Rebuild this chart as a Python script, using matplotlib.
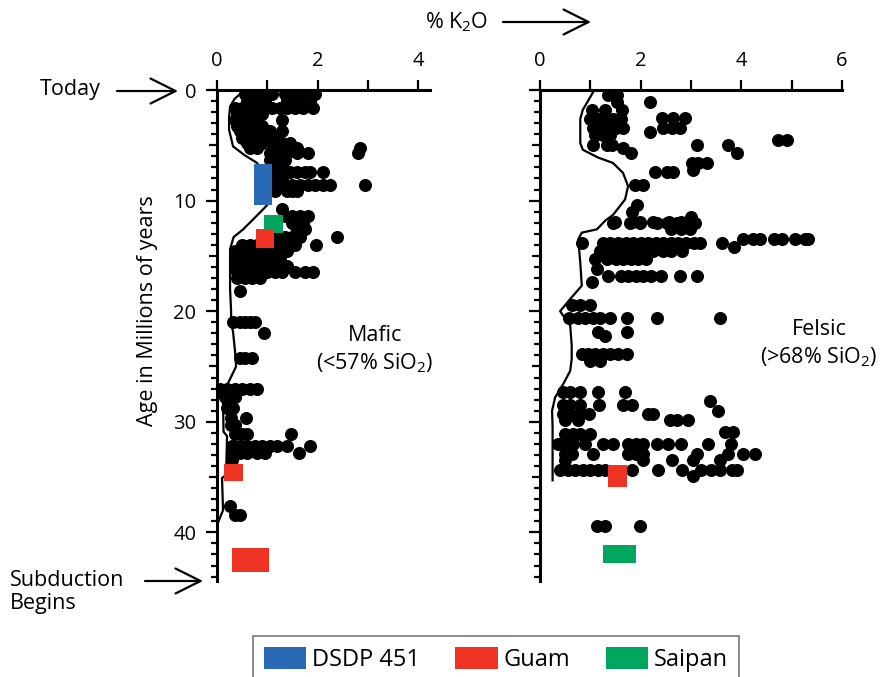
# K2O vs age, Mariana arc lavas (mafic and felsic panels)
import numpy as np
import matplotlib
matplotlib.use('Agg')
import matplotlib.pyplot as plt
from matplotlib.patches import Patch

plt.rcParams['font.family'] = ['Open Sans', 'DejaVu Sans']
plt.rcParams['mathtext.default'] = 'regular'

# ---- data: dots grouped by age row ----
mafic_row_age = [0.4, 1.0, 1.6, 2.2, 2.7, 3.3, 3.7, 4.3, 4.8, 5.2, 5.7, 6.3, 6.9, 7.4, 8.0,
                 8.6, 9.1, 10.8, 11.4, 12.0, 12.6, 13.3, 14.0, 14.6, 15.3, 15.9, 16.5, 17.0,
                 18.2, 21.0, 22.0, 24.2, 27.0, 27.8, 28.8, 29.7, 30.3, 31.1, 32.2, 32.8,
                 33.5, 37.6, 38.4]
mafic_row_k2o = [
    [0.55, 0.7, 0.85, 1.0, 1.1, 1.35, 1.5, 1.65, 1.8, 1.95],
    [0.6, 0.8, 0.95, 1.4, 1.6, 1.85],
    [0.35, 0.5, 0.65, 0.8, 0.95, 1.1, 1.25, 1.4, 1.55, 1.7, 1.9],
    [0.4, 0.6, 0.75, 0.9],
    [0.35, 0.5, 0.65, 0.8, 1.3],
    [0.4, 0.55, 0.75, 0.9],
    [0.45, 0.6, 0.8, 0.95, 1.05, 1.3],
    [0.5, 0.65, 0.85, 1.0, 1.2],
    [0.6, 0.75, 0.9, 1.1, 1.3, 1.45],
    [0.65, 0.8, 1.15, 1.35, 1.5, 1.6, 2.85],
    [1.05, 1.2, 1.4, 1.6, 1.8, 2.8],
    [1.05, 1.2, 1.35],
    [1.15, 1.3],
    [1.15, 1.3, 1.45, 1.6, 1.75, 1.85, 2.1],
    [1.15, 1.3],
    [1.2, 1.35, 1.5, 1.65, 1.8, 1.95, 2.1, 2.25, 2.95],
    [1.15, 1.4, 1.5, 1.6],
    [1.3],
    [1.35, 1.5, 1.65, 1.8],
    [1.5, 1.7],
    [1.6, 1.75],
    [0.9, 1.05, 1.2, 1.35, 1.5, 1.65, 2.38],
    [0.5, 0.65, 0.8, 0.95, 1.1, 1.25, 1.4, 1.55, 1.97],
    [0.35, 0.5, 0.65, 0.8, 0.95, 1.1, 1.25, 1.4],
    [0.35, 0.5, 0.65, 0.8, 0.95, 1.1, 1.25],
    [0.35, 0.5, 0.65, 0.8, 0.95, 1.1, 1.25, 1.4],
    [0.4, 0.55, 0.7, 0.85, 1.0, 1.15, 1.3, 1.55, 1.75, 1.9],
    [0.4, 0.55, 0.7, 0.85],
    [0.45],
    [0.32, 0.45, 0.55, 0.65, 0.75],
    [0.94],
    [0.45, 0.55, 0.7],
    [0.05, 0.2, 0.35, 0.5, 0.65, 0.8],
    [0.15, 0.3, 0.35],
    [0.2, 0.32],
    [0.27, 0.57],
    [0.27, 0.35],
    [0.35, 0.5, 0.6, 1.47],
    [0.3, 0.45, 0.6, 0.75, 0.9, 1.05, 1.2, 1.4, 1.85],
    [0.3, 0.45, 0.6, 0.8, 0.95, 1.63],
    [0.3],
    [0.26],
    [0.36, 0.45],
]

felsic_row_age = [0.45, 1.1, 1.8, 2.5, 2.6, 3.4, 3.8, 4.1, 4.5, 5.0, 5.2, 5.7, 6.6, 7.2, 7.4,
                  8.6, 10.4, 11.0, 11.5, 11.9, 12.0, 12.6, 13.5, 13.8, 14.2, 14.6, 15.3,
                  16.2, 16.8, 17.4, 19.4, 20.6, 21.9, 22.2, 23.9, 24.5, 27.3, 28.1, 28.5,
                  29.0, 29.3, 29.8, 30.9, 31.1, 32.0, 32.9, 33.5, 34.4, 34.9, 39.4]
felsic_row_k2o = [
    [1.35, 1.53],
    [1.53, 2.19],
    [1.03, 1.29, 1.63],
    [2.43, 2.64, 2.88],
    [1.0, 1.15, 1.3, 1.45, 1.6],
    [1.05, 1.2, 1.35, 1.5, 1.65, 2.45, 2.62, 2.78],
    [2.19],
    [1.1, 1.25, 1.4],
    [4.73, 4.9],
    [1.06, 1.33, 1.43, 3.12, 3.74],
    [1.65],
    [1.8, 3.92],
    [3.02, 3.14, 3.32],
    [3.04],
    [2.29, 2.52, 2.64],
    [1.89, 2.05],
    [1.93],
    [1.83],
    [3.0],
    [1.49, 1.82, 1.98, 2.24, 2.56, 2.8],
    [1.45, 1.79, 1.99, 2.33, 2.53, 2.72, 2.92, 3.08],
    [2.6, 2.8, 2.98],
    [4.04, 4.24, 4.37, 4.64, 4.8, 5.07, 5.27, 5.33],
    [0.83, 1.25, 1.4, 1.55, 1.7, 1.85, 2.0, 2.15, 2.3, 2.45, 2.6, 2.75, 2.9, 3.05, 3.18, 3.62],
    [3.85],
    [1.2, 1.35, 1.5, 1.65, 1.8, 1.95, 2.1, 2.25, 2.45, 2.6, 2.82],
    [1.1, 1.33, 1.5, 1.65, 1.8, 1.95, 2.1],
    [1.13],
    [1.35, 1.6, 1.75, 1.9, 2.05, 2.2, 2.4, 2.78, 3.12],
    [1.03],
    [0.63, 0.8, 1.0],
    [0.57, 0.75, 0.9, 1.05, 1.2, 1.39, 1.72, 2.32, 3.58],
    [1.16, 1.72],
    [1.3],
    [0.83, 0.95, 1.1, 1.25, 1.4, 1.55, 1.72],
    [1.0, 1.2],
    [0.46, 0.6, 0.8, 1.16, 1.69],
    [3.38],
    [0.45, 0.6, 0.8, 1.18, 1.65, 1.83],
    [3.54],
    [0.45, 0.6, 0.8, 0.97, 2.15, 2.25],
    [0.5, 0.75, 2.58, 2.72, 2.94],
    [3.68, 3.84],
    [0.5, 0.65, 0.8, 1.0],
    [0.35, 0.5, 0.65, 0.9, 1.25, 1.45, 1.75, 1.9, 2.05, 2.32, 2.54, 2.8, 3.33, 3.8],
    [0.5, 0.64, 1.06, 1.75, 1.9, 2.05, 3.12, 3.74, 4.04, 4.28],
    [0.5, 2.05, 2.62, 3.04, 3.57],
    [0.4, 0.55, 0.7, 0.85, 1.0, 1.15, 1.3, 1.83, 2.35, 2.82, 3.2, 3.4, 3.58, 3.82, 3.91],
    [3.04],
    [1.13, 1.29, 1.99],
]

# running-average curves
mafic_line_k2o = [0.50, 0.35, 0.26, 0.24, 0.24, 0.32, 0.55, 0.80, 0.95, 1.00, 0.85, 0.52,
                  0.33, 0.26, 0.26, 0.28, 0.28, 0.32, 0.36, 0.38, 0.20, 0.05, 0.12, 0.13,
                  0.20, 0.18, 0.10, 0.12, 0.03]
mafic_line_age = [0.2, 0.8, 1.5, 2.5, 3.6, 5.1, 5.9, 6.6, 8.0, 10.4, 11.1, 12.6, 13.3, 14.4,
                  18.0, 20.0, 21.0, 21.9, 23.7, 25.0, 26.7, 27.3, 28.0, 30.9, 31.3, 34.8,
                  35.1, 38.0, 39.0]
felsic_line_k2o = [1.06, 0.85, 0.80, 0.80, 0.85, 1.15, 1.45, 1.65, 1.75, 1.69, 1.45, 1.30,
                   1.13, 0.83, 0.76, 0.80, 0.83, 0.60, 0.40, 0.46, 0.60, 0.63, 0.63, 0.60,
                   0.46, 0.30, 0.24, 0.25, 0.25]
felsic_line_age = [0.15, 1.8, 2.6, 4.8, 5.4, 6.1, 6.6, 7.5, 8.7, 9.9, 11.3, 11.8, 12.6, 12.9,
                   13.5, 15.6, 17.7, 18.9, 20.0, 20.4, 21.3, 23.1, 24.3, 25.4, 26.6, 27.8,
                   29.0, 30.5, 35.3]

# site boxes (K2O range x age range)
mafic_site = ['DSDP 451', 'Saipan', 'Guam', 'Guam', 'Guam']
mafic_k2o_min = [0.74, 0.93, 0.78, 0.14, 0.30]
mafic_k2o_max = [1.10, 1.31, 1.14, 0.52, 1.04]
mafic_age_min = [6.7, 11.3, 12.6, 33.8, 41.4]
mafic_age_max = [10.4, 12.9, 14.3, 35.4, 43.6]
felsic_site = ['Guam', 'Saipan']
felsic_k2o_min = [1.35, 1.25]
felsic_k2o_max = [1.73, 1.91]
felsic_age_min = [33.9, 41.1]
felsic_age_max = [35.9, 42.8]

site_colors = {'DSDP 451': '#2a69b3', 'Guam': '#ee3224', 'Saipan': '#00a65d'}

W, H = 886, 677
fig = plt.figure(figsize=(W / 100, H / 100), dpi=100)

ax1 = fig.add_axes([217 / W, 96 / H, 213 / W, 491 / H])
ax2 = fig.add_axes([540 / W, 96 / H, 302 / W, 491 / H])


def expand(row_age, row_k2o):
    ages, vals = [], []
    for a, xs in zip(row_age, row_k2o):
        ages += [a] * len(xs)
        vals += xs
    return np.array(vals), np.array(ages)


def setup(ax, xmax, xticks, labels_y):
    ax.set_xlim(0, xmax)
    ax.set_ylim(44.4, 0)
    for s in ['right', 'bottom']:
        ax.spines[s].set_visible(False)
    for s in ['top', 'left']:
        ax.spines[s].set_linewidth(2.2)
    ax.xaxis.tick_top()
    ax.set_xticks(xticks)
    ax.set_xticklabels([str(t) if t % 2 == 0 else '' for t in xticks])
    ax.tick_params(axis='x', direction='out', length=7.5, width=1.6, pad=6, labelsize=14.5)
    ax.set_yticks(np.arange(0, 45, 5))
    ax.set_yticks(np.arange(0, 45, 1), minor=True)
    if labels_y:
        ax.set_yticklabels([str(v) if v % 10 == 0 else '' for v in range(0, 45, 5)])
    else:
        ax.set_yticklabels([])
    ax.tick_params(axis='y', which='major', direction='out', length=8, width=1.6, pad=7, labelsize=14.5)
    ax.tick_params(axis='y', which='minor', direction='out', length=4, width=1.6)
    for t, v in zip(ax.yaxis.get_major_ticks(), range(0, 45, 5)):
        if v % 10 != 0:
            t.tick1line.set_markersize(6)


setup(ax1, 4.235, [0, 1, 2, 3, 4], True)
setup(ax2, 6.0, [0, 1, 2, 3, 4, 5, 6], False)

for ax, ra, rk, lk, la, sites, kmin, kmax, amin, amax in [
        (ax1, mafic_row_age, mafic_row_k2o, mafic_line_k2o, mafic_line_age,
         mafic_site, mafic_k2o_min, mafic_k2o_max, mafic_age_min, mafic_age_max),
        (ax2, felsic_row_age, felsic_row_k2o, felsic_line_k2o, felsic_line_age,
         felsic_site, felsic_k2o_min, felsic_k2o_max, felsic_age_min, felsic_age_max)]:
    x, y = expand(ra, rk)
    ax.scatter(x, y, s=88, color='black', linewidths=0, zorder=2)
    ax.plot(lk, la, color='black', lw=1.6, zorder=3)
    kmin, kmax = np.array(kmin), np.array(kmax)
    amin, amax = np.array(amin), np.array(amax)
    ax.bar(kmin, amax - amin, width=kmax - kmin, bottom=amin, align='edge',
           color=[site_colors[s] for s in sites], edgecolor='none', zorder=4)

ax1.set_ylabel('Age in Millions of years', fontsize=15.5)
ax1.yaxis.set_label_coords(-0.275, 1 - (311 - 90) / 491)

ax1.text(375 / W, 1 - 350 / H, 'Mafic\n(<57% SiO$_2$)', transform=fig.transFigure,
         ha='center', va='center', fontsize=15.5, linespacing=1.25)
ax2.text(819 / W, 1 - 344 / H, 'Felsic\n(>68% SiO$_2$)', transform=fig.transFigure,
         ha='center', va='center', fontsize=15.5, linespacing=1.25)

# labels with arrows
arrow = dict(arrowstyle='->,head_length=0.9,head_width=0.45', lw=1.6, color='black',
             mutation_scale=20, shrinkA=0, shrinkB=0)
fig.text(457 / W, 1 - 22 / H, '% K$_2$O', ha='center', va='center', fontsize=15.5)
ax1.annotate('', xy=(591 / W, 1 - 22 / H), xytext=(503 / W, 1 - 22 / H),
             xycoords='figure fraction', textcoords='figure fraction', arrowprops=arrow)
fig.text(70 / W, 1 - 90 / H, 'Today', ha='center', va='center', fontsize=15.5)
ax1.annotate('', xy=(178 / W, 1 - 91 / H), xytext=(117 / W, 1 - 91 / H),
             xycoords='figure fraction', textcoords='figure fraction', arrowprops=arrow)
fig.text(10 / W, 1 - 592 / H, 'Subduction\nBegins', ha='left', va='center',
         fontsize=15.5, linespacing=1.1)
ax1.annotate('', xy=(203 / W, 1 - 581 / H), xytext=(145 / W, 1 - 581 / H),
             xycoords='figure fraction', textcoords='figure fraction', arrowprops=arrow)

handles = [Patch(facecolor=site_colors[k], edgecolor='none') for k in ['DSDP 451', 'Guam', 'Saipan']]
leg = fig.legend(handles, ['DSDP 451', 'Guam', 'Saipan'], loc='upper left',
                 bbox_to_anchor=(253 / W, 1 - 636 / H), ncol=3, fontsize=17,
                 frameon=True, fancybox=False, edgecolor='#555555', borderaxespad=0,
                 handlelength=1.8, handleheight=1.1, handletextpad=0.25,
                 columnspacing=1.5, borderpad=0.45)
leg.get_frame().set_linewidth(1.2)

fig.savefig('out.png', dpi=100)
